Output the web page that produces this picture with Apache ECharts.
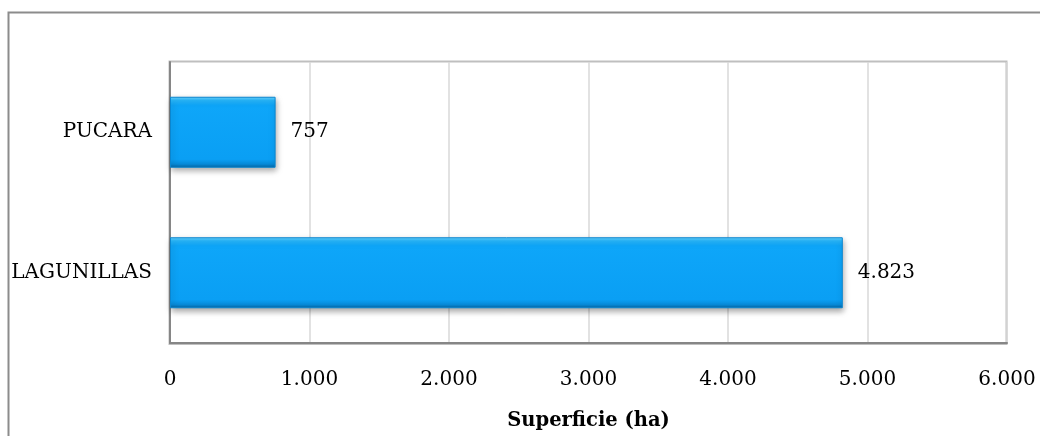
<!DOCTYPE html>
<html><head><meta charset="utf-8">
<script src="https://cdn.jsdelivr.net/npm/echarts@6/dist/echarts.min.js"></script>
<style>html,body{margin:0;padding:0;background:#fff}#c{width:1040px;height:436px}</style>
</head><body><div id="c"></div>
<script>
const categories = ['LAGUNILLAS', 'PUCARA'];
const values = [4823, 757];
const xTicks = [0, 1000, 2000, 3000, 4000, 5000, 6000];
const axisTitle = 'Superficie (ha)';

function fmt(v) {
  return String(v).replace(/\B(?=(\d{3})+(?!\d))/g, '.');
}
const chart = echarts.init(document.getElementById('c'));
const serif = '"DejaVu Serif", "Liberation Serif", serif';
chart.setOption({
  animation: false,
  graphic: [{
    type: 'rect', silent: true,
    shape: { x: 8.5, y: 12.5, width: 1100, height: 500 },
    style: { fill: 'none', stroke: '#8c8c8c', lineWidth: 2 }
  }, {
    type: 'rect', silent: true, z: 0,
    shape: { x: 169.5, y: 61.5, width: 837, height: 282.5 },
    style: { fill: 'none', stroke: '#bfbfbf', lineWidth: 2 }
  }],
  grid: { left: 170, right: 33, top: 62, bottom: 92, containLabel: false },
  xAxis: {
    type: 'value', min: xTicks[0], max: xTicks[xTicks.length - 1], interval: 1000,
    name: axisTitle, nameLocation: 'middle', nameGap: 68,
    nameTextStyle: { fontFamily: serif, fontSize: 19.5, fontWeight: 'bold', color: '#000' },
    axisLine: { show: true, lineStyle: { color: '#868686', width: 2 } },
    axisTick: { show: false },
    axisLabel: { formatter: fmt, margin: 27, fontFamily: serif, fontSize: 20, color: '#000' },
    splitLine: { lineStyle: { color: '#d9d9d9', width: 1.5 } }
  },
  yAxis: {
    type: 'category', data: categories,
    axisLine: { show: true, lineStyle: { color: '#868686', width: 2 } },
    axisTick: { show: false },
    axisLabel: { margin: 18, fontFamily: serif, fontSize: 20, color: '#000' }
  },
  series: [{
    type: 'bar', data: values, barWidth: 71,
    itemStyle: {
      color: new echarts.graphic.LinearGradient(0, 0, 0, 1, [
        { offset: 0, color: '#6fd6ff' },
        { offset: 0.05, color: '#28b8fd' },
        { offset: 0.12, color: '#0ea6f9' },
        { offset: 0.88, color: '#0a9ff4' },
        { offset: 0.95, color: '#078ad8' },
        { offset: 1, color: '#05629e' }
      ]),
      borderColor: '#0a86d0', borderWidth: 1,
      shadowColor: 'rgba(0,0,0,0.35)', shadowBlur: 6, shadowOffsetY: 3, shadowOffsetX: 1
    },
    label: {
      show: true, position: 'right', distance: 15,
      formatter: p => fmt(p.value),
      fontFamily: serif, fontSize: 20, color: '#000'
    }
  }]
});
</script></body></html>
